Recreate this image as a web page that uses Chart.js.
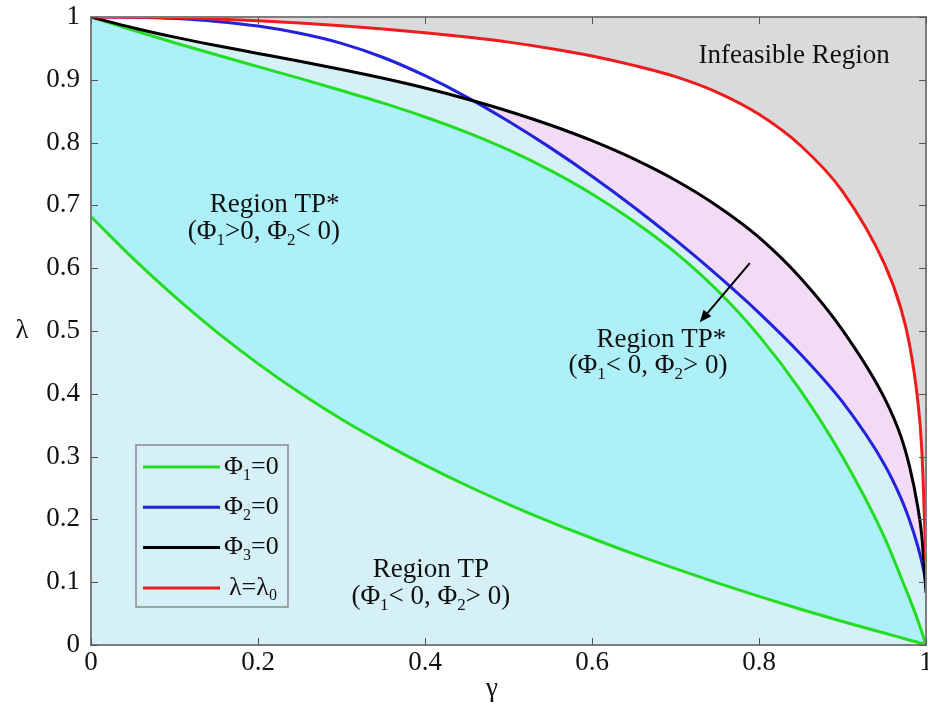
<!DOCTYPE html>
<html>
<head>
<meta charset="utf-8">
<title>Feasible regions</title>
<script src="https://cdn.jsdelivr.net/npm/chart.js@4.4.0/dist/chart.umd.min.js"></script>
<style>
  html, body { margin: 0; padding: 0; background: #fff; }
  #wrap { width: 928px; height: 707px; }
</style>
</head>
<body>
<div id="wrap"><canvas id="chart" width="928" height="707"></canvas></div>
<script>
// gamma grid shared by every curve (denser near 1 where the curves drop)
const gammaValues = [0, 0.05, 0.1, 0.15, 0.2, 0.25, 0.3, 0.35, 0.4, 0.45, 0.5, 0.55, 0.6, 0.65, 0.7, 0.75, 0.8, 0.85, 0.9, 0.95, 0.97, 0.98, 0.99, 0.995, 1]

// Φ1=0 has two branches
const phi1Upper = [1, 0.979, 0.959, 0.9398, 0.921, 0.9023, 0.883, 0.8628, 0.8408, 0.8163, 0.7883, 0.7558, 0.7183, 0.6748, 0.6248, 0.5648, 0.4923, 0.4048, 0.2998, 0.1723, 0.108, 0.075, 0.04, 0.0205, 0]
const phi1Lower = [0.682, 0.616, 0.555, 0.499, 0.448, 0.4015, 0.3595, 0.3215, 0.2865, 0.254, 0.224, 0.196, 0.17, 0.145, 0.1215, 0.099, 0.0775, 0.057, 0.0375, 0.019, 0.0117, 0.008, 0.0044, 0.0026, 0]
const phi2 = [1, 0.9995, 0.9975, 0.993, 0.9855, 0.974, 0.958, 0.9355, 0.9065, 0.8725, 0.834, 0.792, 0.7465, 0.6975, 0.645, 0.589, 0.529, 0.463, 0.387, 0.288, 0.234, 0.2, 0.158, 0.132, 0.1]
const phi3 = [1, 0.983, 0.968, 0.9545, 0.942, 0.9295, 0.9165, 0.9025, 0.887, 0.8695, 0.85, 0.828, 0.803, 0.774, 0.74, 0.699, 0.649, 0.584, 0.5015, 0.394, 0.332, 0.286, 0.221, 0.1735, 0.0835]
const lambda0 = [1, 0.9997, 0.999, 0.997, 0.994, 0.9905, 0.986, 0.981, 0.975, 0.968, 0.96, 0.95, 0.938, 0.923, 0.905, 0.88, 0.845, 0.795, 0.7225, 0.6075, 0.5355, 0.4805, 0.3905, 0.3105, 0.13]

const xTickValues = [0, 0.2, 0.4, 0.6, 0.8, 1]
const xTickLabels = ['0', '0.2', '0.4', '0.6', '0.8', '1']
const yTickValues = [0, 0.1, 0.2, 0.3, 0.4, 0.5, 0.6, 0.7, 0.8, 0.9, 1]
const yTickLabels = ['0', '0.1', '0.2', '0.3', '0.4', '0.5', '0.6', '0.7', '0.8', '0.9', '1']

// region labels, placed in (gamma, lambda); "_" puts the next char in subscript
const regionLabels = [
  { text: 'Infeasible Region', g: 0.842, l: 0.938 },
  { text: 'Region TP*', g: 0.220, l: 0.700 },
  { text: '(Φ_1>0, Φ_2< 0)', g: 0.207, l: 0.658 },
  { text: 'Region TP*', g: 0.683, l: 0.486 },
  { text: '(Φ_1< 0, Φ_2> 0)', g: 0.667, l: 0.444 },
  { text: 'Region TP', g: 0.407, l: 0.119 },
  { text: '(Φ_1< 0, Φ_2> 0)', g: 0.407, l: 0.077 }
]
const arrowFrom = { g: 0.789, l: 0.608 }
const arrowTo = { g: 0.729, l: 0.514 }

const legendItems = [
  { text: 'Φ_1=0', color: '#22dd22' },
  { text: 'Φ_2=0', color: '#2222dd' },
  { text: 'Φ_3=0', color: '#000000' },
  { text: 'λ=λ_0', color: '#ee1c1c' }
]

const SERIF = '"Liberation Serif", "Times New Roman", serif'
const FONT_SIZE = 27

function pts (ys) {
  return gammaValues.map((g, i) => ({ x: g, y: ys[i] }))
}

function drawRich (ctx, text, x, y, size, align) {
  const parts = []
  for (let i = 0; i < text.length; i++) {
    if (text[i] === '_') {
      parts.push({ t: text[i + 1], sub: true })
      i++
    } else if (parts.length && !parts[parts.length - 1].sub) {
      parts[parts.length - 1].t += text[i]
    } else {
      parts.push({ t: text[i], sub: false })
    }
  }
  const mainFont = `${size}px ${SERIF}`
  const subFont = `${Math.round(size * 0.62)}px ${SERIF}`
  let w = 0
  parts.forEach(p => { ctx.font = p.sub ? subFont : mainFont; w += ctx.measureText(p.t).width })
  let cx = align === 'left' ? x : x - w / 2
  ctx.textAlign = 'left'
  ctx.textBaseline = 'middle'
  parts.forEach(p => {
    ctx.font = p.sub ? subFont : mainFont
    ctx.fillText(p.t, cx, p.sub ? y + size * 0.32 : y)
    cx += ctx.measureText(p.t).width
  })
}

const decorPlugin = {
  id: 'decor',
  afterDatasetsDraw (chart) {
    const { ctx, chartArea: a } = chart
    const xs = chart.scales.x
    const ys = chart.scales.y
    ctx.save()

    // box and inward ticks
    ctx.strokeStyle = '#7d7d7d'
    ctx.lineWidth = 2
    ctx.strokeRect(a.left, a.top, a.right - a.left, a.bottom - a.top)
    ctx.strokeStyle = '#555'
    ctx.lineWidth = 1
    ctx.beginPath()
    xTickValues.forEach(v => {
      const px = Math.round(xs.getPixelForValue(v)) + 0.5
      ctx.moveTo(px, a.bottom); ctx.lineTo(px, a.bottom - 7)
      ctx.moveTo(px, a.top); ctx.lineTo(px, a.top + 7)
    })
    yTickValues.forEach(v => {
      const py = Math.round(ys.getPixelForValue(v)) + 0.5
      ctx.moveTo(a.left, py); ctx.lineTo(a.left + 7, py)
      ctx.moveTo(a.right, py); ctx.lineTo(a.right - 7, py)
    })
    ctx.stroke()

    // region labels
    ctx.fillStyle = '#111'
    regionLabels.forEach(r => {
      drawRich(ctx, r.text, xs.getPixelForValue(r.g), ys.getPixelForValue(r.l), FONT_SIZE, 'center')
    })

    // arrow
    const x1 = xs.getPixelForValue(arrowFrom.g)
    const y1 = ys.getPixelForValue(arrowFrom.l)
    const x2 = xs.getPixelForValue(arrowTo.g)
    const y2 = ys.getPixelForValue(arrowTo.l)
    const ang = Math.atan2(y2 - y1, x2 - x1)
    ctx.strokeStyle = '#000'
    ctx.fillStyle = '#000'
    ctx.lineWidth = 2
    ctx.beginPath()
    ctx.moveTo(x1, y1)
    ctx.lineTo(x2 - 8 * Math.cos(ang), y2 - 8 * Math.sin(ang))
    ctx.stroke()
    ctx.beginPath()
    ctx.moveTo(x2, y2)
    ctx.lineTo(x2 - 12 * Math.cos(ang) + 5 * Math.sin(ang), y2 - 12 * Math.sin(ang) - 5 * Math.cos(ang))
    ctx.lineTo(x2 - 12 * Math.cos(ang) - 5 * Math.sin(ang), y2 - 12 * Math.sin(ang) + 5 * Math.cos(ang))
    ctx.closePath()
    ctx.fill()

    // legend box
    const lx = a.left + 45
    const ly = a.top + 428
    ctx.strokeStyle = '#8a8a8a'
    ctx.lineWidth = 1.5
    ctx.strokeRect(lx, ly, 152, 162)
    legendItems.forEach((it, i) => {
      const yy = ly + 22 + i * 40.3
      ctx.strokeStyle = it.color
      ctx.lineWidth = 3
      ctx.beginPath()
      ctx.moveTo(lx + 7, yy)
      ctx.lineTo(lx + 84, yy)
      ctx.stroke()
      ctx.fillStyle = '#111'
      drawRich(ctx, it.text, lx + (i === 3 ? 93 : 88), yy, 26, 'left')
    })

    // axis titles
    ctx.fillStyle = '#111'
    ctx.font = `${FONT_SIZE}px ${SERIF}`
    ctx.textAlign = 'center'
    ctx.textBaseline = 'middle'
    ctx.fillText('λ', 22, (a.top + a.bottom) / 2)
    ctx.fillText('γ', a.left + 401, 689)
    ctx.restore()
  }
}

const lineBase = { pointRadius: 0, borderWidth: 3, cubicInterpolationMode: 'monotone' }

new Chart(document.getElementById('chart'), {
  type: 'line',
  data: {
    datasets: [
      { ...lineBase, label: 'λ=λ0', data: pts(lambda0), borderColor: '#ee1c1c', fill: { target: 'end', above: '#d9dadc', below: '#d9dadc' }, backgroundColor: '#d9dadc', order: 0 },
      { ...lineBase, label: 'Φ3=0', data: pts(phi3), borderColor: '#000000', fill: false, order: 1 },
      { ...lineBase, label: 'Φ2=0', data: pts(phi2), borderColor: '#2222dd', fill: { target: 1, above: 'rgba(0,0,0,0)', below: '#f3dbf6' }, order: 2 },
      { ...lineBase, label: 'Φ1=0', data: pts(phi1Upper), borderColor: '#22dd22', fill: { target: 4, above: '#aef0fa', below: '#aef0fa' }, order: 3 },
      { ...lineBase, label: 'Φ1=0 (lower)', data: pts(phi1Lower), borderColor: '#22dd22', fill: false, order: 4 },
      { ...lineBase, label: 'TP area', data: pts(phi3), borderWidth: 0, borderColor: 'rgba(0,0,0,0)', fill: { target: 'origin', above: '#d6f0f7', below: '#d6f0f7' }, order: 5 }
    ]
  },
  options: {
    responsive: false,
    animation: false,
    devicePixelRatio: 1,
    layout: { padding: { left: 0, right: 2, top: 17, bottom: 0 } },
    plugins: {
      legend: { display: false },
      tooltip: { enabled: false },
      filler: { drawTime: 'beforeDatasetsDraw' }
    },
    scales: {
      x: {
        type: 'linear',
        min: 0,
        max: 1,
        grid: { display: false, drawTicks: false },
        border: { display: false },
        afterBuildTicks: s => { s.ticks = xTickValues.map(v => ({ value: v })) },
        afterFit: s => { s.height = 62; s.paddingLeft = 0; s.paddingRight = 0 },
        ticks: {
          padding: 2,
          maxRotation: 0,
          autoSkip: false,
          color: '#111',
          font: { family: SERIF, size: FONT_SIZE },
          callback: (v, i) => xTickLabels[i]
        }
      },
      y: {
        min: 0,
        max: 1,
        grid: { display: false, drawTicks: false },
        border: { display: false },
        afterBuildTicks: s => { s.ticks = yTickValues.map(v => ({ value: v })) },
        afterFit: s => { s.width = 91; s.paddingTop = 0; s.paddingBottom = 0 },
        ticks: {
          padding: 11,
          autoSkip: false,
          color: '#111',
          font: { family: SERIF, size: FONT_SIZE },
          callback: (v, i) => yTickLabels[i]
        }
      }
    }
  },
  plugins: [decorPlugin]
})
</script>
</body>
</html>
